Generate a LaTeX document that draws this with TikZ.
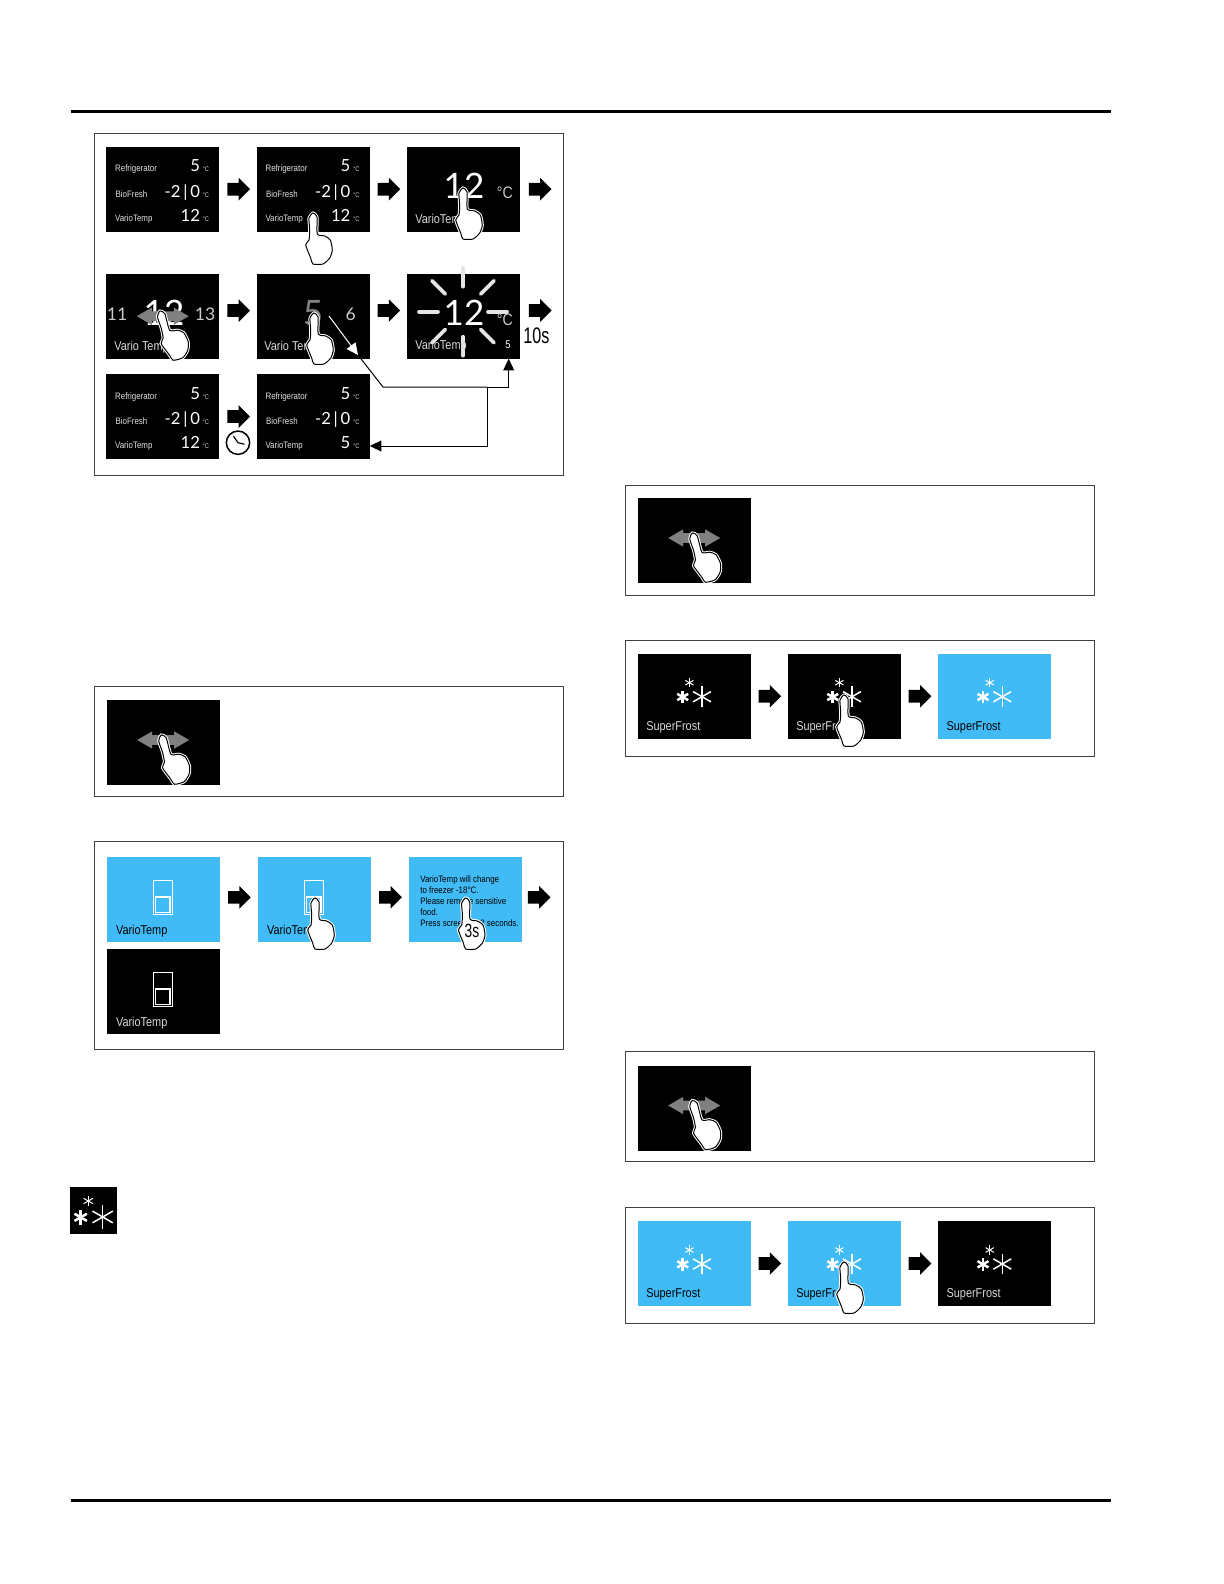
\documentclass[tikz,border=0pt]{standalone}
\usepackage{fontspec}
\usepackage{xcolor}
\newfontfamily\hmi[FakeStretch=0.85]{Liberation Sans}
\newfontfamily\hminarrow[FakeStretch=0.72]{Liberation Sans}
\newfontfamily\hmidigit{Lato}
\usetikzlibrary{calc, positioning, arrows.meta, shapes.arrows}
\definecolor{screenblue}{RGB}{64,187,245}
\definecolor{swipegray}{RGB}{128,128,128}
\tikzset{
  pics/statustext/.style 2 args={code={
    \node[rowlabel] (r) at (8.5,25) {Refrigerator};
    \node[rowlabel] (b) at (9,50.5) {BioFresh};
    \node[rowlabel] (v) at (8.5,74.5) {VarioTemp};
    \node[rowvalue] (rv) at (94,25) {#1};
    \node[rowvalue] (bv) at (94,50.5) {-2\,|\,0};
    \node[rowvalue] (vv) at (94,74.5) {#2};
    \node[rowunit] (ru) at (96,25) {°C};
    \node[rowunit] (bu) at (96,50.5) {°C};
    \node[rowunit] (vu) at (96,74.5) {°C};
  }},
  pics/hand/.style={code={
    \path[draw=white,line width=1.8pt,fill=white] plot[smooth cycle,tension=.4] coordinates {(-4,5) (0,0) (4,4) (4.3,21) (11.7,23) (17.3,27) (19.3,37) (16.7,45) (10,51) (0,51) (-2.3,45) (-7.3,32) (-4,27) (-3.3,17)};
    \path[draw=black,line width=.6pt,fill=white] plot[smooth cycle,tension=.4] coordinates {(-4,5) (0,0) (4,4) (4.3,21) (11.7,23) (17.3,27) (19.3,37) (16.7,45) (10,51) (0,51) (-2.3,45) (-7.3,32) (-4,27) (-3.3,17)};
  }},
  pics/flakes/.style={code={
    \foreach \a in {30,90,150} {
      \draw[white,line width=.6pt] (\a:4.7) -- (\a+180:4.7);
      \draw[white,line width=1.5pt] ($(-6.7,14.3)+(\a:6.3)$) -- ($(-6.7,14.3)+(\a+180:6.3)$);
      \draw[white,line width=.9pt] ($(12.6,14)+(\a:10.3)$) -- ($(12.6,14)+(\a+180:10.3)$);
    }
  }},
  pics/doorbox/.style={code={
    \draw[#1,line width=.5pt] (46.6,23) rectangle (66,57.7);
    \draw[#1,line width=.9pt] (49,40) rectangle (63.3,55.7);
  }}
}
\begin{document}
\begin{tikzpicture}[x=0.6pt,y=-0.6pt,
    frame/.style={draw=black!75,line width=.6pt,anchor=north west,inner sep=0,outer sep=0,minimum width=281.4pt},
    screen/.style={fill=black,anchor=north west,inner sep=0,outer sep=0,minimum width=67.8pt,minimum height=51pt},
    bluescreen/.style={screen,fill=screenblue},
    blockarrow/.style={single arrow,fill=black,inner xsep=0,inner ysep=3.6pt,outer sep=0,minimum height=13.6pt,single arrow head extend=3pt,xshift=.5pt},
    midarrow/.style={blockarrow,xshift=-2pt},
    swipe/.style={double arrow,fill=swipegray,inner xsep=0,inner ysep=2.7pt,outer sep=0,minimum height=31.2pt,double arrow head extend=2.3pt,double arrow tip angle=60},
    rowlabel/.style={anchor=base west,inner sep=0,text=white!88!black,font=\hmi\fontsize{5.6}{6}\selectfont},
    rowvalue/.style={anchor=base east,inner sep=0,text=white,font=\hmidigit\fontsize{10}{11}\selectfont},
    rowunit/.style={anchor=base west,inner sep=0,text=white!85!black,font=\hmi\fontsize{4}{5}\selectfont},
    biglabel/.style={anchor=base west,inner sep=0,text=white!85!black,font=\hmi\fontsize{7.7}{9}\selectfont},
    bigdigit/.style={anchor=base,inner sep=0,text=white,font=\hmidigit\fontsize{21}{23}\selectfont},
    middigit/.style={anchor=base,inner sep=0,text=white!80!black,font=\hmidigit\fontsize{10.5}{12}\selectfont},
    bigunit/.style={anchor=base west,inner sep=0,text=white!80!black,font=\hmi\fontsize{10}{12}\selectfont},
    flow/.style={line width=.6pt,-{Triangle[length=7pt,width=6.5pt]}}]

  \useasboundingbox (0,0) rectangle (1224,1584);

  \draw[line width=1.8pt] (70.5,111.5) -- (1111,111.5);
  \draw[line width=1.8pt] (70.5,1500) -- (1111,1500);

  \node[frame,minimum height=205.2pt] (f1) at (94,133) {};
  \node[frame,minimum height=66pt] (f2) at (94,686) {};
  \node[frame,minimum height=124.8pt] (f3) at (94,841) {};
  \node[frame,minimum height=66pt] (f4) at (625,485) {};
  \node[frame,minimum height=69.6pt] (f5) at (625,640) {};
  \node[frame,minimum height=66pt] (f6) at (625,1051) {};
  \node[frame,minimum height=69.6pt] (f7) at (625,1207) {};

  \node[screen] (s1) at (106.3,146.7) {};
  \node[screen] (s2) at (256.7,146.7) {};
  \node[screen] (s3) at (406.7,146.7) {};
  \node[screen] (s4) at (106.3,273.7) {};
  \node[screen] (s5) at (256.7,273.7) {};
  \node[screen] (s6) at (406.7,273.7) {};
  \node[screen] (s7) at (106.3,374) {};
  \node[screen] (s8) at (256.7,374) {};

  \node[midarrow] (a12) at ($(s1.east)!.5!(s2.west)$) {};
  \node[midarrow] (a23) at ($(s2.east)!.5!(s3.west)$) {};
  \node[blockarrow,right=5pt of s3] (a3) {};
  \node[midarrow,yshift=3.4pt] (a45) at ($(s4.east)!.5!(s5.west)$) {};
  \node[midarrow,yshift=3.4pt] (a56) at ($(s5.east)!.5!(s6.west)$) {};
  \node[blockarrow,right=5pt of s6,yshift=3.4pt] (a6) {};
  \node[midarrow] (a78) at ($(s7.east)!.5!(s8.west)$) {};

  \pic (s1t) at (s1.north west) {statustext={5}{12}};
  \pic (s2t) at (s2.north west) {statustext={5}{12}};
  \pic (s7t) at (s7.north west) {statustext={5}{12}};
  \pic (s8t) at (s8.north west) {statustext={5}{5}};

  \node[bigdigit] (s3v) at (464,198) {12};
  \node[bigunit] (s3u) at (496.5,198) {°C};
  \node[biglabel] (s3l) at (415,223) {VarioTemp};

  \node[middigit] (s4a) at (117,320.7) {11};
  \node[middigit] (s4b) at (205,320.7) {13};
  \node[bigdigit] (s4v) at (164,325) {12};
  \node[biglabel] (s4l) at (114,350) {Vario Temp};
  \node[swipe] (s4s) at (s4) {};

  \node[bigdigit,text=swipegray] (s5v) at (313,325) {5};
  \node[middigit] (s5b) at (350.7,320.7) {6};
  \node[biglabel] (s5l) at (264,350) {Vario Temp};

  \foreach \a in {0,45,...,315}
    \draw[white!90!black,line width=2.2pt,line cap=round] ($(463,311.7)+(\a:25)$) -- ($(463,311.7)+(\a:44)$);
  \node[bigdigit] (s6v) at (464,325) {12};
  \node[bigunit] (s6u) at (496.5,325) {°C};
  \node[biglabel] (s6l) at (415,349) {VarioTemp};
  \node[anchor=base,inner sep=0,text=white,font=\hmi\fontsize{6.7}{8}\selectfont] (s6n) at (508,348) {5};

  \pic (h2) at (313,213) {hand};
  \pic (h3) at (463,188) {hand};
  \pic[rotate=15] (h4) at (160,311) {hand};
  \pic (h5) at (314,313) {hand};

  \node[anchor=base west,inner sep=0,font=\hminarrow\fontsize{13.5}{15}\selectfont] (t10s) at (523,343) {10s};

  \node[circle,draw,fill=white,line width=.9pt,minimum size=14pt,inner sep=0] (clock) at (238,442.7) {};
  \draw[line width=.7pt] (clock.center) -- +(-4.5,-6.5) (clock.center) -- +(6.5,1.5);

  \coordinate (c1) at (329,316);
  \coordinate (c2) at (358,355);
  \coordinate (c3) at (383,387);
  \coordinate (c4) at (487,387);
  \draw[line width=.6pt,white,-{Triangle[length=7pt,width=6.5pt,fill=white]}] (c1) -- (c2);
  \draw[line width=.6pt] (c2) -- (c3) -- (c4);
  \draw[flow] (c4) -| ($(s6.south east)+(-11,0)$);
  \draw[flow] (c4) |- ($(s8.south east)+(0,-13)$);

  \node[screen] (s9) at (106.7,700) {};
  \node[swipe,yshift=1.5pt] (s9s) at (s9) {};
  \pic[rotate=15] (h9) at (161.3,735) {hand};

  \node[bluescreen] (b1) at (106.7,857) {};
  \node[bluescreen] (b2) at (257.7,857) {};
  \node[bluescreen] (b3) at (409,857) {};
  \node[screen] (b4) at (106.7,949) {};
  \node[midarrow,yshift=1.3pt] (ab12) at ($(b1.east)!.5!(b2.west)$) {};
  \node[midarrow,yshift=1.3pt] (ab23) at ($(b2.east)!.5!(b3.west)$) {};
  \node[blockarrow,right=3pt of b3,yshift=1.3pt] (ab3) {};

  \pic (b1d) at (b1.north west) {doorbox=white};
  \pic (b2d) at (b2.north west) {doorbox=white};
  \pic (b4d) at (b4.north west) {doorbox=white};
  \node[biglabel,text=black] (b1l) at (115.7,934.7) {VarioTemp};
  \node[biglabel,text=black] (b2l) at (266.7,934.7) {VarioTemp};
  \node[biglabel] (b4l) at (115.7,1026.7) {VarioTemp};
  \node[anchor=north west,inner sep=0,align=left,font=\hmi\fontsize{5.6}{6.6}\selectfont] (b3t) at (420,875.6) {VarioTemp will change\\to freezer -18°C.\\Please remove sensitive\\food.\\Press screen for 3 seconds.};
  \pic (hb2) at (315,898) {hand};
  \pic (hb3) at (465.7,898) {hand};
  \node[anchor=base,inner sep=0,font=\hminarrow\fontsize{11.5}{13}\selectfont] (hb3t) at (472,937.7) {3s};

  \node[fill=black,anchor=north west,inner sep=0,outer sep=0,minimum size=28.2pt] (icon) at (70,1187) {};
  \pic[scale=1.14] (iconf) at (88.3,1201) {flakes};

  \node[screen] (r1) at (637.7,498) {};
  \node[swipe,yshift=1.5pt] (r1s) at (r1) {};
  \pic[rotate=15] (hr1) at (692.3,533) {hand};

  \node[screen] (p1) at (637.7,653.7) {};
  \node[screen] (p2) at (787.7,653.7) {};
  \node[bluescreen] (p3) at (938,653.7) {};
  \node[midarrow] (ap12) at ($(p1.east)!.5!(p2.west)$) {};
  \node[midarrow] (ap23) at ($(p2.east)!.5!(p3.west)$) {};
  \pic (p1f) at ($(p1.north west)+(51.7,29)$) {flakes};
  \pic (p2f) at ($(p2.north west)+(51.7,29)$) {flakes};
  \pic (p3f) at ($(p3.north west)+(51.7,29)$) {flakes};
  \node[biglabel] (p1l) at (646,730) {SuperFrost};
  \node[biglabel] (p2l) at (796,730) {SuperFrost};
  \node[biglabel,text=black] (p3l) at (946.3,730) {SuperFrost};
  \pic (hp2) at (844,695) {hand};

  \node[screen] (r2) at (637.7,1065.5) {};
  \node[swipe,yshift=1.5pt] (r2s) at (r2) {};
  \pic[rotate=15] (hr2) at (692.3,1100.5) {hand};

  \node[bluescreen] (q1) at (637.7,1221) {};
  \node[bluescreen] (q2) at (787.7,1221) {};
  \node[screen] (q3) at (938,1221) {};
  \node[midarrow] (aq12) at ($(q1.east)!.5!(q2.west)$) {};
  \node[midarrow] (aq23) at ($(q2.east)!.5!(q3.west)$) {};
  \pic (q1f) at ($(q1.north west)+(51.7,29)$) {flakes};
  \pic (q2f) at ($(q2.north west)+(51.7,29)$) {flakes};
  \pic (q3f) at ($(q3.north west)+(51.7,29)$) {flakes};
  \node[biglabel,text=black] (q1l) at (646,1297.5) {SuperFrost};
  \node[biglabel,text=black] (q2l) at (796,1297.5) {SuperFrost};
  \node[biglabel] (q3l) at (946.3,1297.5) {SuperFrost};
  \pic (hq2) at (844,1262) {hand};

\end{tikzpicture}
\end{document}
